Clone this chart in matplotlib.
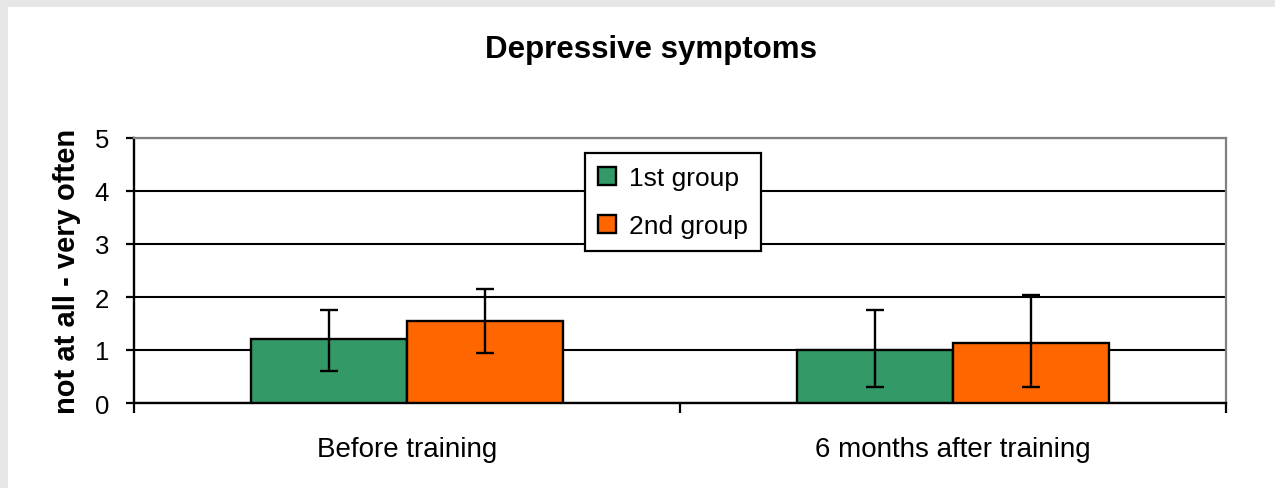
import numpy as np
import matplotlib.pyplot as plt
from matplotlib.patches import Rectangle

plt.rcParams['font.family'] = ['Liberation Sans', 'DejaVu Sans']

# dados
categorias = ['Before training', '6 months after training']
grupos = ['1st group', '2nd group']
medias_g1 = [1.2, 1.0]
medias_g2 = [1.55, 1.14]
erro_inf_g1 = [0.6, 0.7]
erro_sup_g1 = [0.55, 0.75]
erro_inf_g2 = [0.6, 0.84]
erro_sup_g2 = [0.6, 0.9]
cores = ['#339966', '#FF6600']

fig = plt.figure(figsize=(12.75, 4.89), dpi=100)
fig.patch.set_facecolor('white')
# moldura cinza no topo e na esquerda
fig.patches.append(Rectangle((0, 1 - 8 / 489), 1, 8 / 489, transform=fig.transFigure,
                             facecolor='#e6e6e6', edgecolor='none'))
fig.patches.append(Rectangle((0, 0), 8 / 1275, 1, transform=fig.transFigure,
                             facecolor='#e6e6e6', edgecolor='none'))

ax = fig.add_axes([134 / 1275, 1 - 404 / 489, (1226 - 134) / 1275, (404 - 139) / 489])

x = np.arange(len(categorias))
largura = 1 / 3.5

ax.bar(x - largura / 2, medias_g1, largura, color=cores[0], edgecolor='black',
       linewidth=1.7, label=grupos[0], zorder=3)
ax.bar(x + largura / 2, medias_g2, largura, color=cores[1], edgecolor='black',
       linewidth=1.7, label=grupos[1], zorder=3)
ax.errorbar(x - largura / 2, medias_g1, yerr=[erro_inf_g1, erro_sup_g1], fmt='none',
            ecolor='black', elinewidth=1.7, capsize=6.8, capthick=1.7, zorder=4)
ax.errorbar(x + largura / 2, medias_g2, yerr=[erro_inf_g2, erro_sup_g2], fmt='none',
            ecolor='black', elinewidth=1.7, capsize=6.8, capthick=1.7, zorder=4)

ax.set_xlim(-0.5, 1.5)
ax.set_ylim(0, 5)
ax.set_yticks(range(6))
ax.yaxis.grid(True, color='black', linewidth=1.5, zorder=0)
ax.set_axisbelow(True)

ax.set_xticks([-0.5, 0.5, 1.5])
ax.set_xticklabels([])
ax.set_xticks(x, minor=True)
ax.set_xticklabels(categorias, minor=True, fontsize=20)
ax.tick_params(axis='x', which='minor', length=0, pad=24)
ax.tick_params(axis='x', which='major', length=7, width=1.6, direction='out')
ax.tick_params(axis='y', length=6, width=1.6, direction='out', labelsize=18.5, pad=12)

ax.spines['left'].set_linewidth(1.7)
ax.spines['bottom'].set_linewidth(1.7)
ax.spines['top'].set_color('#808080')
ax.spines['right'].set_color('#808080')
ax.spines['top'].set_linewidth(1.6)
ax.spines['right'].set_linewidth(1.6)

ax.set_ylabel('not at all - very often', fontsize=21, fontweight='bold', labelpad=10)
fig.text(651 / 1275, 1 - 50 / 489, 'Depressive symptoms', fontsize=22.5, fontweight='bold',
         ha='center', va='center')

leg = ax.legend(loc='upper left', bbox_to_anchor=(585 / 1275, 1 - 154 / 489),
                bbox_transform=fig.transFigure, borderaxespad=0, fancybox=False,
                edgecolor='black', fontsize=19, handlelength=0.67, handleheight=0.67,
                handletextpad=0.5, labelspacing=0.9, borderpad=0.5)
leg.get_frame().set_linewidth(1.6)
leg.get_frame().set_alpha(1)

fig.savefig('out.png', dpi=100, facecolor=fig.get_facecolor())
